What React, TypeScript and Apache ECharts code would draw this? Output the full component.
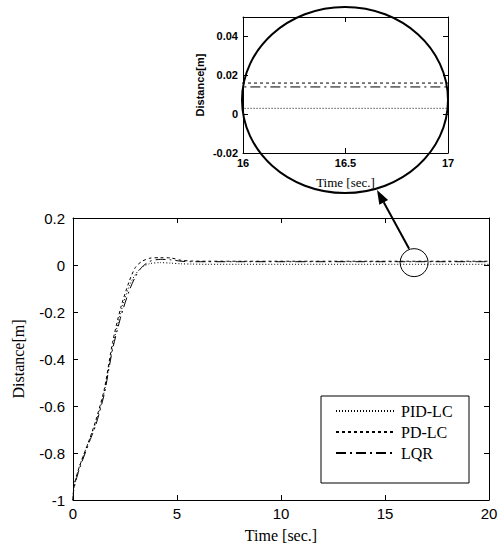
import React, { useEffect, useRef } from "react";
import * as echarts from "echarts";

// Time axis (sec.)
const time = [0, 0.05, 0.3, 0.8, 1.1, 1.5, 1.9, 2.3, 2.7, 3.0, 3.3, 3.7, 4.2, 4.7, 5.2, 5.7, 6.5, 8, 10, 12, 14, 16, 18, 20];
// Distance [m] for each controller
const pidLC = [-1, -0.94, -0.86, -0.74, -0.67, -0.54, -0.35, -0.2, -0.09, -0.04, -0.01, 0.006, 0.01, 0.008, 0.005, 0.004, 0.003, 0.003, 0.003, 0.003, 0.003, 0.003, 0.003, 0.003];
const pdLC = [-1, -0.94, -0.86, -0.74, -0.66, -0.53, -0.33, -0.18, -0.07, -0.01, 0.015, 0.029, 0.031, 0.03, 0.02, 0.017, 0.016, 0.016, 0.016, 0.016, 0.016, 0.016, 0.016, 0.016];
const lqr = [-1, -0.95, -0.87, -0.75, -0.68, -0.55, -0.36, -0.22, -0.11, -0.05, -0.01, 0.016, 0.024, 0.022, 0.016, 0.014, 0.014, 0.014, 0.014, 0.014, 0.014, 0.014, 0.014, 0.014];

const seriesNames = ["PID-LC", "PD-LC", "LQR"];
const seriesData = [pidLC, pdLC, lqr];
const dashes = [[1, 2], [3, 3], [10, 4, 2, 4]];

// Axis ranges [min, max, interval]
const mainX = [0, 20, 5];
const mainY = [-1, 0.2, 0.2];
const insetX = [16, 17, 0.5];
const insetY = [-0.02, 0.05, 0.02];
// zoom region marked in the main plot
const zoomMark = [16.4, 0.01];

const SERIF = "Liberation Serif";
const SANS = "Liberation Sans";

function pts(arr: number[]) {
  return time.map((t, i) => [t, arr[i]]);
}

export default function App() {
  const ref = useRef<HTMLDivElement>(null);
  useEffect(() => {
    if (!ref.current) return;
    const chart = echarts.init(ref.current, undefined, { renderer: "svg" });
    const axisLine = { show: true, onZero: false, lineStyle: { color: "#000", width: 1 } };
    const tickIn = { show: true, inside: true, length: 5, lineStyle: { color: "#000" } };
    const mkX = (r: number[], grid: number, pos: string, labels: boolean, extra: any = {}) => ({
      type: "value",
      gridIndex: grid,
      position: pos,
      min: r[0],
      max: r[1],
      interval: r[2],
      axisLine,
      axisTick: tickIn,
      splitLine: { show: false },
      axisLabel: { show: labels },
      ...extra,
    });
    const series: any[] = [];
    [0, 1].forEach((g) => {
      seriesNames.forEach((n, i) => {
        series.push({
          name: n,
          type: "line",
          xAxisIndex: g * 2,
          yAxisIndex: g * 2,
          data: pts(seriesData[i]),
          showSymbol: false,
          symbol: "none",
          smooth: g === 0 ? 0.25 : false,
          clip: true,
          itemStyle: { color: "#000" },
          lineStyle: { color: "#000", width: 1, type: dashes[i] },
          silent: true,
        });
      });
    });
    const option: any = {
      animation: false,
      backgroundColor: "#fff",
      grid: [
        { left: 73, top: 218, width: 416, height: 282 },
        { left: 243, top: 17, width: 205, height: 136 },
      ],
      xAxis: [
        mkX(mainX, 0, "bottom", true, {
          axisLabel: { show: true, fontFamily: SANS, fontSize: 15, color: "#000", margin: 6 },
          name: "Time [sec.]",
          nameLocation: "middle",
          nameGap: 27,
          nameTextStyle: { fontFamily: SERIF, fontSize: 16, color: "#000" },
        }),
        mkX(mainX, 0, "top", false),
        mkX(insetX, 1, "bottom", true, {
          axisLabel: { show: true, fontFamily: SANS, fontSize: 11, fontWeight: "bold", color: "#000", margin: 4 },
          name: "Time [sec.]",
          nameLocation: "middle",
          nameGap: 23,
          nameTextStyle: { fontFamily: SERIF, fontSize: 13, color: "#000" },
        }),
        mkX(insetX, 1, "top", false),
      ],
      yAxis: [
        mkX(mainY, 0, "left", true, {
          axisLabel: { show: true, fontFamily: SANS, fontSize: 15, color: "#000", margin: 8 },
          name: "Distance[m]",
          nameLocation: "middle",
          nameGap: 47,
          nameTextStyle: { fontFamily: SERIF, fontSize: 16, color: "#000" },
        }),
        mkX(mainY, 0, "right", false),
        mkX(insetY, 1, "left", true, {
          axisLabel: { show: true, showMaxLabel: false, fontFamily: SANS, fontSize: 11, fontWeight: "bold", color: "#000", margin: 5 },
          name: "Distance[m]",
          nameLocation: "middle",
          nameGap: 38,
          nameTextStyle: { fontFamily: SANS, fontSize: 11, fontWeight: "bold", color: "#000" },
        }),
        mkX(insetY, 1, "right", false),
      ],
      legend: {
        data: seriesNames,
        orient: "vertical",
        left: 330,
        top: 398,
        itemWidth: 60,
        itemHeight: 14,
        itemGap: 5,
        itemStyle: { opacity: 0 },
        textStyle: { fontFamily: SERIF, fontSize: 16, color: "#000" },
        selectedMode: false,
      },
      series,
    };
    chart.setOption(option);

    const c = chart.convertToPixel({ xAxisIndex: 0, yAxisIndex: 0 }, zoomMark) as number[];
    const r = 14;
    const tip = [377, 190];
    const start = [c[0] - 5, c[1] - r];
    const dx = tip[0] - start[0];
    const dy = tip[1] - start[1];
    const len = Math.sqrt(dx * dx + dy * dy);
    const ux = dx / len, uy = dy / len;
    const hl = 14, hw = 5;
    const bx = tip[0] - hl * ux, by = tip[1] - hl * uy;
    const px = -uy, py = ux;
    chart.setOption({
      graphic: [
        { type: "rect", shape: { x: 321, y: 396, width: 148, height: 87 }, style: { fill: "none", stroke: "#000", lineWidth: 1 }, z: 100 },
        { type: "circle", shape: { cx: c[0], cy: c[1], r }, style: { fill: "none", stroke: "#000", lineWidth: 1 }, z: 100 },
        { type: "line", shape: { x1: start[0], y1: start[1], x2: bx, y2: by }, style: { stroke: "#000", lineWidth: 2 }, z: 100 },
        {
          type: "polygon",
          shape: { points: [tip, [bx + hw * px, by + hw * py], [bx - hw * px, by - hw * py]] },
          style: { fill: "#000" },
          z: 100,
        },
        { type: "ellipse", shape: { cx: 345, cy: 100, rx: 103, ry: 93 }, style: { fill: "none", stroke: "#000", lineWidth: 2 }, z: 100 },
      ],
    });
    return () => chart.dispose();
  }, []);
  return <div ref={ref} style={{ width: 501, height: 552, position: "absolute", left: 0, top: 0 }} />;
}
